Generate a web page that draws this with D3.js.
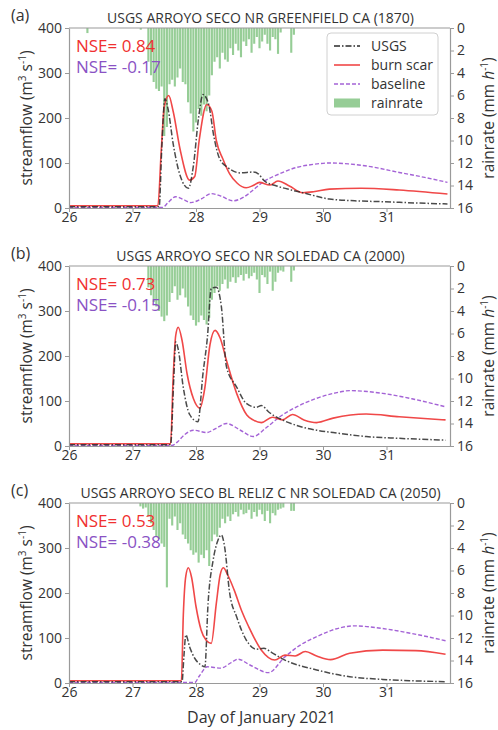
<!DOCTYPE html>
<html>
<head>
<meta charset="utf-8">
<script src="https://cdn.jsdelivr.net/npm/d3@7"></script>
<style>
  body { margin: 0; background: #fff; }
  svg text { font-family: "Open Sans", "DejaVu Sans", sans-serif; }
</style>
</head>
<body>
<svg id="chart" width="498" height="730"></svg>
<script>
// ---- Tick labels ----
const dayTicks = [26, 27, 28, 29, 30, 31];
const flowTicks = [0, 100, 200, 300, 400];
const rainTicks = [0, 2, 4, 6, 8, 10, 12, 14, 16];

// ---- Panel titles and scores ----
const panelTags = ["(a)", "(b)", "(c)"];
const stationNames = [
  "USGS ARROYO SECO NR GREENFIELD CA (1870)",
  "USGS ARROYO SECO NR SOLEDAD CA (2000)",
  "USGS ARROYO SECO BL RELIZ C NR SOLEDAD CA (2050)"
];
const nseBurn = ["0.84", "0.73", "0.53"];
const nseBase = ["-0.17", "-0.15", "-0.38"];

// ---- Hourly rain rate (mm/h), first bar time and values ----
const rainStart = [27.25, 27.25, 27.125];
const rainA = [3.0, 4.2, 4.8, 5.4, 5.6, 5.2, 9.6, 8.8, 5.0, 4.6, 5.2, 4.4, 3.6, 4.8, 5.0, 6.6,
  7.6, 9.2, 8.4, 7.2, 7.8, 6.8, 7.4, 6.0, 4.2, 3.0, 2.6, 3.6, 2.2, 2.8, 3.0, 1.8, 2.4, 1.4,
  2.0, 2.6, 1.2, 1.6, 1.0, 2.2, 1.4, 0.8, 1.8, 1.2, 0.6, 1.4, 2.0, 0.8, 1.0, 2.3, 0.4, 0, 0,
  0, 2.2, 0.6];
const rainB = [1.9, 2.6, 3.2, 3.6, 4.0, 4.5, 4.9, 4.4, 3.2, 2.4, 1.8, 3.0, 2.6, 2.0, 2.8, 3.6,
  4.4, 4.8, 5.3, 5.0, 4.4, 4.8, 5.2, 4.6, 3.0, 2.4, 1.8, 2.2, 1.6, 1.2, 2.0, 1.4, 1.0, 1.5,
  1.0, 0.8, 1.3, 0.7, 1.1, 0.9, 0.6, 1.2, 2.4, 0.8, 1.0, 1.6, 0.5, 2.2, 1.4, 0.6, 0.4, 0.5,
  0, 0, 1.4, 0.4];
const rainC = [0.3, 0.5, 0.4, 1.2, 1.8, 2.4, 3.0, 3.2, 3.6, 3.9, 7.5, 1.4, 2.0, 1.2, 2.4, 1.8,
  2.8, 3.2, 3.6, 4.2, 4.6, 4.4, 5.3, 4.6, 4.9, 4.2, 5.6, 3.4, 2.8, 3.0, 2.2, 1.4, 1.8, 1.2,
  1.6, 1.0, 0.8, 1.2, 0.6, 1.0, 0.9, 0.6, 1.4, 0.8, 1.2, 0.6, 1.0, 1.6, 0.7, 1.8, 0.9, 1.1,
  0.6, 0.5, 0.4, 0, 0, 0.7, 0.7];
// isolated early showers (day, mm/h)
const rainExtraA = [[26.29, 0.45], [27.13, 0.15]];

// ---- Streamflow (m3/s): USGS observed ----
const usgsA_t = [26, 27.42, 27.46, 27.51, 27.56, 27.64, 27.75, 27.88, 27.96, 28.04, 28.11, 28.2, 28.28,
  28.37, 28.5, 28.7, 28.9, 28.98, 29.08, 29.27, 29.5, 29.68, 30.1, 30.5, 30.94, 31.5, 31.96];
const usgsA_q = [3, 3, 130, 243, 220, 143, 72, 44, 95, 200, 252, 230, 160,
  110, 90, 78, 80, 76, 60, 49, 40, 34, 20, 16, 14, 11, 9];
const usgsB_t = [26, 27.6, 27.65, 27.68, 27.72, 27.8, 27.9, 28.03, 28.11, 28.18, 28.24, 28.32, 28.4,
  28.48, 28.64, 28.79, 28.95, 29.03, 29.15, 29.36, 29.6, 29.9, 30.16, 30.68, 31.2, 31.93];
const usgsB_q = [3, 3, 150, 231, 215, 130, 70, 54, 161, 242, 350, 353, 309,
  176, 131, 95, 86, 90, 75, 58, 45, 35, 30, 21, 17, 13];
const usgsC_t = [26, 27.78, 27.81, 27.84, 27.9, 27.98, 28.08, 28.14, 28.19, 28.27, 28.34, 28.4, 28.45,
  28.53, 28.64, 28.79, 28.95, 29.07, 29.2, 29.4, 29.9, 30.42, 30.94, 31.4, 31.93];
const usgsC_q = [3, 3, 60, 107, 80, 55, 40, 36, 177, 273, 315, 329, 303,
  200, 147, 96, 75, 77, 67, 51, 29, 14, 8, 5, 3];

// ---- Streamflow: burn scar simulation ----
const burnA_t = [26, 27.40, 27.45, 27.5, 27.57, 27.64, 27.75, 27.9, 27.98, 28.05, 28.17, 28.25, 28.32,
  28.42, 28.53, 28.65, 28.79, 28.9, 29.0, 29.16, 29.29, 29.47, 29.68, 29.85, 30.1, 30.6, 31.2, 31.96];
const burnA_q = [5, 5, 120, 225, 250, 215, 130, 62, 70, 150, 230, 215, 150,
  110, 76, 55, 45, 50, 57, 51, 60, 49, 34, 36, 42, 44, 40, 31];
const burnB_t = [26, 27.6, 27.64, 27.68, 27.72, 27.78, 27.86, 27.96, 28.06, 28.14, 28.22, 28.3, 28.38,
  28.48, 28.64, 28.8, 28.9, 29.03, 29.2, 29.36, 29.52, 29.7, 29.9, 30.16, 30.68, 31.2, 31.93];
const burnB_q = [5, 5, 150, 245, 264, 235, 160, 105, 84, 130, 225, 257, 240,
  190, 117, 69, 58, 52, 64, 58, 70, 58, 52, 62, 71, 65, 58];
const burnC_t = [26, 27.77, 27.8, 27.84, 27.88, 27.93, 28.0, 28.08, 28.16, 28.24, 28.32, 28.38, 28.43,
  28.5, 28.6, 28.72, 28.83, 29.03, 29.24, 29.4, 29.56, 29.72, 29.9, 30.12, 30.42, 30.94, 31.46, 31.93];
const burnC_q = [5, 5, 150, 238, 256, 235, 170, 118, 95, 88, 177, 240, 256,
  240, 207, 160, 125, 73, 51, 62, 60, 70, 60, 52, 66, 73, 72, 64];

// ---- Streamflow: baseline simulation ----
const baseA_t = [26, 27.47, 27.56, 27.68, 27.8, 27.92, 28.08, 28.24, 28.4, 28.58, 28.75, 28.9, 29.06,
  29.3, 29.58, 29.85, 30.1, 30.4, 30.7, 31.2, 31.6, 31.96];
const baseA_q = [1, 1, 12, 25, 19, 12, 20, 32, 26, 16, 24, 40, 58,
  75, 90, 97, 100, 98, 93, 79, 68, 57];
const baseB_t = [26, 27.62, 27.7, 27.82, 27.96, 28.17, 28.3, 28.48, 28.7, 28.9, 29.1, 29.32, 29.6,
  29.9, 30.2, 30.42, 30.7, 30.94, 31.4, 31.93];
const baseB_q = [1, 1, 8, 25, 35, 30, 38, 50, 35, 21, 40, 65, 88,
  106, 118, 123, 121, 117, 105, 87];
const baseC_t = [26, 27.98, 28.05, 28.18, 28.39, 28.55, 28.66, 28.85, 29.14, 29.4, 29.65, 29.9, 30.2,
  30.5, 30.94, 31.4, 31.93];
const baseC_q = [1, 1, 15, 36, 33, 45, 53, 40, 23, 58, 85, 103, 120,
  127, 121, 110, 94];

// ---- Assemble panels ----
const zip = (t, q) => t.map((d, i) => [d, q[i]]);
const panels = [
  { tag: panelTags[0], title: stationNames[0], nse: [nseBurn[0], nseBase[0]],
    rain: rainA, rainT0: rainStart[0], rainExtra: rainExtraA,
    usgs: zip(usgsA_t, usgsA_q), burn: zip(burnA_t, burnA_q), base: zip(baseA_t, baseA_q), legend: true },
  { tag: panelTags[1], title: stationNames[1], nse: [nseBurn[1], nseBase[1]],
    rain: rainB, rainT0: rainStart[1], rainExtra: [],
    usgs: zip(usgsB_t, usgsB_q), burn: zip(burnB_t, burnB_q), base: zip(baseB_t, baseB_q), legend: false },
  { tag: panelTags[2], title: stationNames[2], nse: [nseBurn[2], nseBase[2]],
    rain: rainC, rainT0: rainStart[2], rainExtra: [],
    usgs: zip(usgsC_t, usgsC_q), burn: zip(burnC_t, burnC_q), base: zip(baseC_t, baseC_q), legend: false }
];

// ---- Layout / style ----
const L = 69, R = 450, H = 180;
const tops = [28, 266, 503];
const frame = "#9a9a9a", ink = "#333";
const cRed = "#f04848", cPurple = "#a463d6", cUsgs = "#2a2a2a", cRain = "#2e9b2e";

const svg = d3.select("#chart");
const x = d3.scaleLinear().domain([26, 32]).range([L, R]);

panels.forEach((p, k) => {
  const top = tops[k], bot = top + H;
  const y = d3.scaleLinear().domain([0, 400]).range([bot, top]);
  const yr = d3.scaleLinear().domain([0, 16]).range([top, bot]);
  const g = svg.append("g");

  // clip to plotting area
  const clipId = "clip" + k;
  svg.append("clipPath").attr("id", clipId)
    .append("rect").attr("x", L).attr("y", top).attr("width", R - L).attr("height", H);
  const plot = g.append("g").attr("clip-path", `url(#${clipId})`);

  // rain bars hanging from the top
  const hour = 1 / 24;
  const bars = p.rain.map((v, i) => [p.rainT0 + i * hour, v]).concat(p.rainExtra).filter(d => d[1] > 0);
  const bw = x(26 + hour * 0.8) - x(26);
  plot.selectAll("rect.rain").data(bars).enter().append("rect")
    .attr("class", "rain")
    .attr("x", d => x(d[0]) - bw / 2)
    .attr("y", yr(0))
    .attr("width", bw)
    .attr("height", d => yr(d[1]) - yr(0))
    .attr("fill", cRain).attr("fill-opacity", 0.5);

  const line = d3.line().x(d => x(d[0])).y(d => y(d[1])).curve(d3.curveMonotoneX);

  plot.append("path").datum(p.base).attr("d", line)
    .attr("fill", "none").attr("stroke", cPurple).attr("stroke-width", 1.4)
    .attr("stroke-dasharray", "4,2");
  plot.append("path").datum(p.burn).attr("d", line)
    .attr("fill", "none").attr("stroke", cRed).attr("stroke-width", 1.6);
  plot.append("path").datum(p.usgs).attr("d", line)
    .attr("fill", "none").attr("stroke", cUsgs).attr("stroke-opacity", 0.85).attr("stroke-width", 1.5)
    .attr("stroke-dasharray", "6,2,1.5,2");

  // axes
  const styleAxis = sel => {
    sel.select(".domain").attr("stroke", frame).attr("stroke-width", 1.2);
    sel.selectAll(".tick line").attr("stroke", frame);
    sel.selectAll(".tick text").attr("fill", ink).attr("font-size", 14)
      .style("font-family", '"Open Sans", sans-serif');
  };
  g.append("g").attr("transform", `translate(${L},0)`)
    .call(d3.axisLeft(y).tickValues(flowTicks).tickSize(4).tickPadding(3).tickSizeOuter(0))
    .call(styleAxis);
  g.append("g").attr("transform", `translate(${R},0)`)
    .call(d3.axisRight(yr).tickValues(rainTicks).tickSize(4).tickPadding(3).tickSizeOuter(0))
    .call(styleAxis);
  g.append("g").attr("transform", `translate(0,${bot})`)
    .call(d3.axisBottom(x).tickValues(dayTicks).tickFormat(d3.format("d")).tickSize(4).tickPadding(0).tickSizeOuter(0))
    .call(styleAxis);
  g.append("line").attr("x1", L).attr("x2", R).attr("y1", top).attr("y2", top)
    .attr("stroke", frame).attr("stroke-width", 1.2);

  // titles
  g.append("text").attr("x", (L + R) / 2 + 1).attr("y", top - 5).attr("text-anchor", "middle")
    .attr("font-size", 14).attr("fill", ink).text(p.title);
  g.append("text").attr("x", 11).attr("y", top - 7).attr("font-size", 16).attr("fill", ink).text(p.tag);

  // NSE scores
  g.append("text").attr("x", L + 7).attr("y", top + 24).attr("font-size", 17)
    .attr("fill", "#f03030").text("NSE= " + p.nse[0]);
  g.append("text").attr("x", L + 7).attr("y", top + 45).attr("font-size", 17)
    .attr("fill", "#8a52c4").text("NSE= " + p.nse[1]);

  // axis labels
  const yl = g.append("text").attr("transform", `translate(32,${top + H / 2}) rotate(-90)`)
    .attr("text-anchor", "middle").attr("font-size", 15.5).attr("fill", ink);
  yl.append("tspan").text("streamflow (m");
  yl.append("tspan").attr("font-size", 10).attr("dy", -6).text("3");
  yl.append("tspan").attr("dy", 6).text(" s");
  yl.append("tspan").attr("font-size", 10).attr("dy", -6).text("-1");
  yl.append("tspan").attr("dy", 6).text(")");

  const rl = g.append("text").attr("transform", `translate(494,${top + H / 2}) rotate(-90)`)
    .attr("text-anchor", "middle").attr("font-size", 15.5).attr("fill", ink);
  rl.append("tspan").text("rainrate (mm ");
  rl.append("tspan").attr("font-style", "italic").text("h");
  rl.append("tspan").attr("font-size", 10).attr("dy", -6).text("-1");
  rl.append("tspan").attr("dy", 6).text(")");

  // legend
  if (p.legend) {
    const lg = g.append("g");
    lg.append("rect").attr("x", 327).attr("y", top + 5).attr("width", 111).attr("height", 82)
      .attr("rx", 4).attr("fill", "#fff").attr("fill-opacity", 0.85)
      .attr("stroke", "#d0d0d0");
    const items = [
      { label: "USGS", kind: "usgs" },
      { label: "burn scar", kind: "burn" },
      { label: "baseline", kind: "base" },
      { label: "rainrate", kind: "rain" }
    ];
    items.forEach((it, i) => {
      const cy = top + 18 + i * 19;
      if (it.kind === "rain") {
        lg.append("rect").attr("x", 334).attr("y", cy - 4.5).attr("width", 26).attr("height", 9)
          .attr("fill", cRain).attr("fill-opacity", 0.5);
      } else {
        const ln = lg.append("line").attr("x1", 334).attr("x2", 360).attr("y1", cy).attr("y2", cy);
        if (it.kind === "usgs") ln.attr("stroke", cUsgs).attr("stroke-width", 1.5).attr("stroke-dasharray", "6,2,1.5,2");
        if (it.kind === "burn") ln.attr("stroke", cRed).attr("stroke-width", 1.6);
        if (it.kind === "base") ln.attr("stroke", cPurple).attr("stroke-width", 1.4).attr("stroke-dasharray", "4,2");
      }
      lg.append("text").attr("x", 371).attr("y", cy + 5).attr("font-size", 14).attr("fill", ink).text(it.label);
    });
  }
});

// shared x label
svg.append("text").attr("x", (L + R) / 2 + 2).attr("y", 723).attr("text-anchor", "middle")
  .attr("font-size", 16).attr("fill", ink).text("Day of January 2021");
</script>
</body>
</html>
